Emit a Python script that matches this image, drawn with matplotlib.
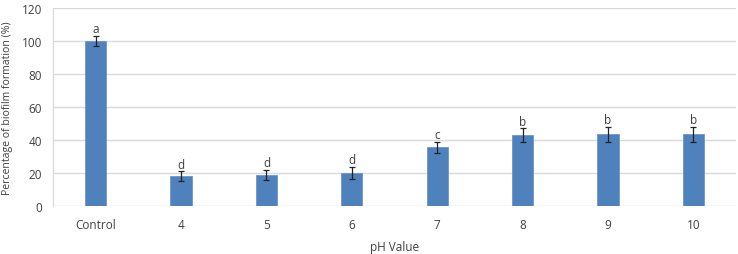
import matplotlib
matplotlib.use("Agg")
import matplotlib.pyplot as plt
import numpy as np

plt.rcParams["font.family"] = ["Open Sans", "DejaVu Sans"]

# データ
categories = ["Control", "4", "5", "6", "7", "8", "9", "10"]
values = [100, 18, 19, 20, 35.5, 43, 43.5, 43.5]
errors = [3, 3, 3, 3.5, 3.5, 4, 4.5, 4.5]
letters = ["a", "d", "d", "d", "c", "b", "b", "b"]

BAR_COLOR = "#4F81BD"
TEXT_COLOR = "#404040"
GRID_COLOR = "#D9D9D9"

fig = plt.figure(figsize=(7.38, 2.55), dpi=100)
ax = fig.add_axes([53 / 738, 48 / 255, 683 / 738, 198 / 255])

x = np.arange(len(categories))
ax.bar(x, values, width=0.25, color=BAR_COLOR, edgecolor="#6C96CC", linewidth=0.6, zorder=3)
ax.errorbar(x, values, yerr=errors, fmt="none", ecolor="#222222", elinewidth=0.9,
            capsize=2.5, capthick=0.9, zorder=4)

for xi, v, e, lab in zip(x, values, errors, letters):
    ax.text(xi, v + e + 0.5, lab, ha="center", va="bottom", fontsize=8.5, color=TEXT_COLOR)

ax.set_xlim(-0.5, len(categories) - 0.5)
ax.set_ylim(0, 120)
ax.set_yticks(range(0, 121, 20))
ax.set_xticks(x)
ax.set_xticklabels(categories)
ax.yaxis.grid(True, color=GRID_COLOR, linewidth=1.0, zorder=0)
ax.set_axisbelow(True)

for side in ["top", "right", "bottom"]:
    ax.spines[side].set_visible(False)
ax.spines["left"].set_color(GRID_COLOR)
ax.tick_params(axis="y", length=0, labelsize=8.5, colors=TEXT_COLOR, pad=8)
ax.tick_params(axis="x", length=0, labelsize=8.5, colors=TEXT_COLOR, pad=9)

ax.set_xlabel("pH Value", fontsize=8.5, color=TEXT_COLOR, labelpad=6)
ax.set_ylabel("Percentage of biofilm formation (%)", fontsize=7.6, color=TEXT_COLOR, labelpad=5)
ax.yaxis.set_label_coords(-0.058, 0.5)

fig.savefig("out.png", dpi=100)
